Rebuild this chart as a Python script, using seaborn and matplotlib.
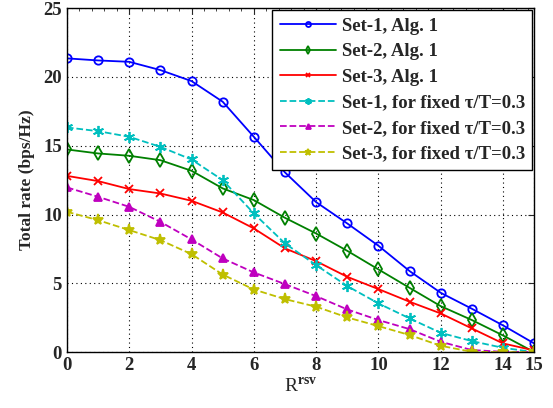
import numpy as np
import pandas as pd
import matplotlib
matplotlib.use("Agg")
import matplotlib.pyplot as plt
import seaborn as sns
from matplotlib.ticker import MultipleLocator

x_vals = list(range(16))
set1_alg1 = [21.35, 21.2, 21.1, 20.5, 19.7, 18.2, 15.65, 13.06, 10.9, 9.35, 7.73, 5.89, 4.31, 3.15, 1.94, 0.63]
set2_alg1 = [14.73, 14.44, 14.27, 13.95, 13.18, 11.9, 11.05, 9.76, 8.62, 7.36, 6.01, 4.67, 3.34, 2.33, 1.21, 0.0]
set3_alg1 = [12.81, 12.43, 11.85, 11.53, 11.0, 10.15, 8.99, 7.54, 6.61, 5.47, 4.58, 3.66, 2.81, 1.72, 0.63, 0.12]
set1_fixed = [16.33, 16.06, 15.65, 14.92, 14.0, 12.5, 10.08, 7.9, 6.32, 4.8, 3.54, 2.45, 1.4, 0.8, 0.31, 0.0]
set2_fixed = [11.97, 11.29, 10.56, 9.47, 8.19, 6.81, 5.79, 4.94, 4.07, 3.1, 2.33, 1.67, 0.75, 0.15, 0.02, 0.0]
set3_fixed = [10.2, 9.59, 8.87, 8.14, 7.12, 5.64, 4.55, 3.85, 3.3, 2.52, 1.89, 1.24, 0.46, 0.02, 0.0, 0.0]

labels = ["Set-1, Alg. 1", "Set-2, Alg. 1", "Set-3, Alg. 1",
          "Set-1, for fixed \u03c4/T=0.3", "Set-2, for fixed \u03c4/T=0.3", "Set-3, for fixed \u03c4/T=0.3"]
xticks = [0, 2, 4, 6, 8, 10, 12, 14, 15]
yticks = [0, 5, 10, 15, 20, 25]

sns.set_style("white")
plt.rcParams['font.family'] = ['Liberation Serif', 'DejaVu Serif']
plt.rcParams['mathtext.fontset'] = 'custom'
plt.rcParams['mathtext.rm'] = 'Liberation Serif'
plt.rcParams['mathtext.bf'] = 'Liberation Serif:bold'

fig = plt.figure(figsize=(5.53, 4.08), dpi=100)
ax = fig.add_axes([0.121, 0.137, 0.845, 0.843])

series = [set1_alg1, set2_alg1, set3_alg1, set1_fixed, set2_fixed, set3_fixed]
colors = ['#0000ff', '#008000', '#ff0000', '#00bfbf', '#bf00bf', '#bfbf00']
markers = ['o', 'd', 'x', (6, 2, 0), '^', '*']
styles = ['-', '-', '-', '--', '--', '--']
fills = ['none', 'none', 'full', 'full', 'full', 'full']
msizes = [6, 7, 6, 8, 6, 8]

for vals, lab, c, m, ls, fs, ms in zip(series, labels, colors, markers, styles, fills, msizes):
    df = pd.DataFrame({"x": x_vals, "y": vals})
    sns.lineplot(data=df, x="x", y="y", ax=ax, color=c, marker=m, linestyle=ls,
                 label=lab, linewidth=1.3, markersize=ms, fillstyle=fs,
                 markeredgecolor=c, markeredgewidth=1.3, dashes=False if ls == '-' else (4, 2.5))

ax.set_xlim(0, 15)
ax.set_ylim(0, 25)
ax.set_xticks(xticks)
ax.set_xticklabels([str(t) for t in xticks])
ax.set_yticks(yticks)
ax.set_yticklabels([str(t) for t in yticks])
ax.xaxis.set_minor_locator(MultipleLocator(0.4))
ax.tick_params(axis='both', which='both', direction='in', top=True, right=True, labelsize=13.5)
ax.tick_params(which='major', length=4)
ax.tick_params(which='minor', length=2.5)
ax.tick_params(axis='y', which='minor', left=False, right=False)
for t in ax.get_xticklabels() + ax.get_yticklabels():
    t.set_fontweight('bold')
ax.grid(True, which='major', color='black', linestyle=(0, (1, 3)), linewidth=0.8)
for s in ax.spines.values():
    s.set_color('black')
    s.set_linewidth(1.0)

ax.set_xlabel(r"R$^{\mathbf{rsv}}$", fontsize=14, labelpad=2)
ax.set_ylabel("Total rate (bps/Hz)", fontsize=12.5, fontweight='bold', labelpad=6)

leg = ax.legend(loc='upper right', frameon=True, fancybox=False,
                edgecolor='black', framealpha=1, handlelength=3.0, markerscale=0.6,
                borderaxespad=0.1, labelspacing=0.45, handletextpad=0.3, borderpad=0.4,
                prop={'weight': 'bold', 'size': 13.5})
leg.get_frame().set_linewidth(1.0)

fig.savefig("out.png", dpi=100)
